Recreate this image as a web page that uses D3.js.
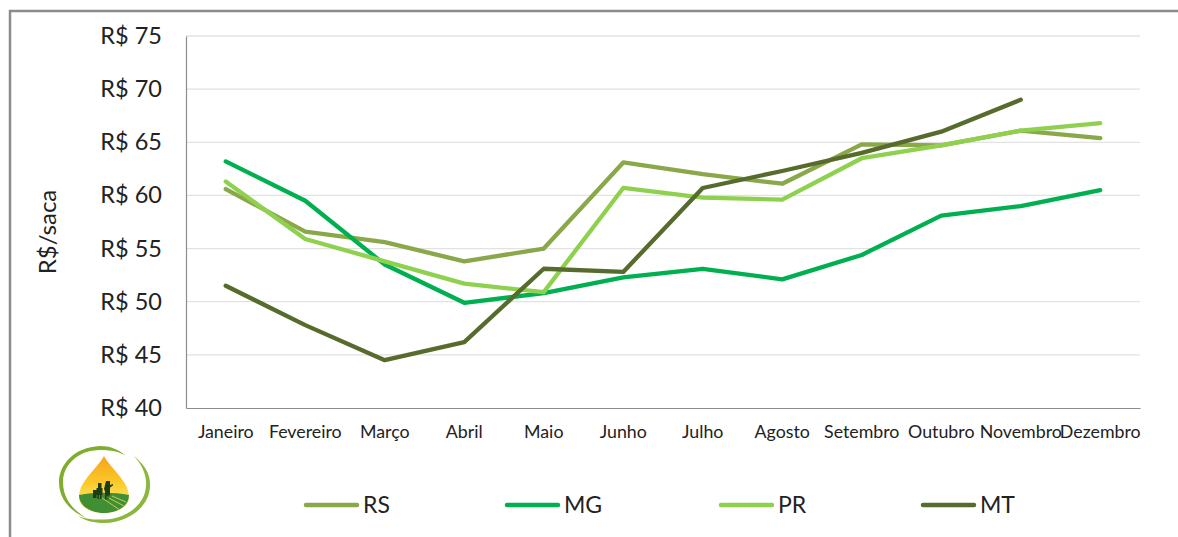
<!DOCTYPE html>
<html><head><meta charset="utf-8">
<script src="https://cdn.jsdelivr.net/npm/d3@7"></script>
<style>html,body{margin:0;padding:0;background:#fff}svg{display:block}text{font-family:Lato,"Open Sans",sans-serif;fill:#222}</style>
</head><body><svg id="c" width="1178" height="537"></svg>
<script>
const months=["Janeiro","Fevereiro","Março","Abril","Maio","Junho","Julho","Agosto","Setembro","Outubro","Novembro","Dezembro"];
const yTicks=[40,45,50,55,60,65,70,75];
const RS=[60.6,56.6,55.6,53.8,55.0,63.1,62.0,61.1,64.8,64.7,66.1,65.4];
const MG=[63.2,59.5,53.5,49.9,50.8,52.3,53.1,52.1,54.4,58.1,59.0,60.5];
const PR=[61.3,55.9,53.8,51.7,50.9,60.7,59.8,59.6,63.5,64.7,66.1,66.8];
const MT=[51.5,47.8,44.5,46.2,53.1,52.8,60.7,62.3,64.0,66.0,69.0,null];
const seriesNames=["RS","MG","PR","MT"];
const seriesValues=[RS,MG,PR,MT];
const colors=["#8aa84a","#00b050","#8fd14f","#566b2c"];

const svg=d3.select("#c");
const L=186,R=1140,T=36,B=408;
const x=d3.scaleBand().domain(months).range([L,R]);
const y=d3.scaleLinear().domain([40,75]).range([B,T]);

// frame
svg.append("path").attr("d","M10,537V11H1178").attr("fill","none").attr("stroke","#8c8c8c").attr("stroke-width",2.5);

// grid
svg.append("g").selectAll("line").data(yTicks.filter(d=>d>40)).join("line")
 .attr("x1",L).attr("x2",R).attr("y1",d=>y(d)).attr("y2",d=>y(d))
 .attr("stroke","#e2e2e2").attr("stroke-width",1.3);

// axes
const yAxis=svg.append("g").attr("transform",`translate(${L},0)`)
 .call(d3.axisLeft(y).tickValues(yTicks).tickSize(0).tickPadding(24).tickFormat(d=>"R$ "+d));
yAxis.select(".domain").attr("stroke","#8c8c8c").attr("stroke-width",1.2);
yAxis.selectAll("text").style("font-size","23.5px");
const xAxis=svg.append("g").attr("transform",`translate(0,${B})`)
 .call(d3.axisBottom(x).tickSize(0).tickPadding(17));
xAxis.select(".domain").attr("stroke","#8c8c8c").attr("stroke-width",1.2);
xAxis.selectAll("text").style("font-size","17.8px");

svg.append("text").attr("transform","translate(50,232) rotate(-90)").attr("text-anchor","middle")
 .attr("dominant-baseline","middle").style("font-size","24px").text("R$/saca");

// lines
const line=d3.line().defined(d=>d!=null).x((d,i)=>x(months[i])+x.bandwidth()/2).y(d=>y(d));
svg.append("g").selectAll("path").data(seriesValues).join("path")
 .attr("d",line).attr("fill","none").attr("stroke",(d,i)=>colors[i]).attr("stroke-width",4.3)
 .attr("stroke-linecap","round").attr("stroke-linejoin","round");

// legend
const legendX=[304,505,719,921];
const lg=svg.append("g").selectAll("g").data(seriesNames).join("g").attr("transform",(d,i)=>`translate(${legendX[i]},505)`);
lg.append("line").attr("x1",2).attr("x2",53).attr("stroke",(d,i)=>colors[i]).attr("stroke-width",4.5).attr("stroke-linecap","round");
lg.append("text").attr("x",59).attr("dy","0.36em").style("font-size","23px").text(d=>d);

// logo
const defs=svg.append("defs");
const g1=defs.append("linearGradient").attr("id","drop").attr("x1",0).attr("x2",0).attr("y1",0).attr("y2",1);
g1.append("stop").attr("offset","0").attr("stop-color","#f4a31c");
g1.append("stop").attr("offset","0.45").attr("stop-color","#fbc828");
g1.append("stop").attr("offset","0.75").attr("stop-color","#fde05a");
defs.append("filter").attr("id","soft").append("feGaussianBlur").attr("stdDeviation",0.5);
const logo=svg.append("g").attr("transform","translate(104,485)").attr("filter","url(#soft)");
logo.append("path").attr("d","M-4,-39C-30,-38,-45,-20,-45,-3C-45,14,-34,26,-18,33C-32,24,-41,13,-41,-3C-41,-20,-26,-35,-4,-35C8,-35,16,-33,22,-29C14,-36,6,-39,-4,-39Z").attr("fill","#7fae2e");
logo.append("path").attr("d","M30,-29C41,-20,47,-10,46,2C45,22,24,38,0,38C-10,38,-18,36,-26,31C-18,34,-10,35,0,34.5C22,34,41,20,42,1C43,-10,38,-20,30,-29Z").attr("fill","#8db63c");
logo.append("path").attr("d","M0,-29C6,-17,25,-4,25,12C25,23,12,28,0,28C-12,28,-25,23,-25,12C-25,-4,-6,-17,0,-29Z").attr("fill","url(#drop)");
logo.append("path").attr("d","M-25,10C-10,7,10,7,25,10C25,22,12,28,0,28C-12,28,-25,22,-25,10Z").attr("fill","#3f8f35");
logo.append("path").attr("d","M-2,13L16,25M3,12L20,21M8,11L22,17").attr("stroke","#c8c94a").attr("stroke-width",1).attr("fill","none");
logo.append("path").attr("d","M-6,-2h3.5v5h1v7h-1v4h-1.5v-4h-1v4h-1.5v-4h-1v-7h1.5zM2,-4h4v4l3,-1v1.5l-3,2v8h-1.5v4h-1v-4h-1v4h-1.5v-8l-1,-2.5zM-11,5h3.5v8h-3.5z").attr("fill","#1f3d12");
</script></body></html>
